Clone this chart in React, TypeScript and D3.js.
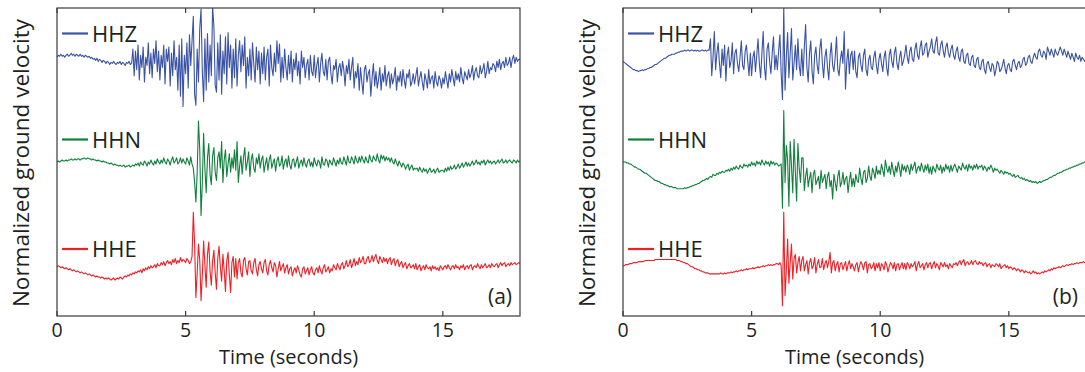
import React from 'react';
import * as d3 from 'd3';

// sampling step of the traces (seconds)
const sampleStep = 0.05;
const xTicks = [0, 5, 10, 15];
const channels = ['HHZ', 'HHN', 'HHE'];
const channelColors = ['#3a53a4', '#117f3e', '#ee1f25'];
const panelLabels = ['(a)', '(b)'];

// ground velocity (1/50 of a normalized unit), one row per second
const hhzA = [
  2, 4, 3, 5, 3, 4, 2, 4, 5, 3, 4, 6, 4, 5, 3, 5, 4, 3, 5, 3,
  4, 2, 4, 3, 2, 3, 1, 2, 0, 1, -1, 1, -2, 0, -1, -3, -1, -2, -4, -2,
  -3, -5, -3, -4, -2, -4, -5, -3, -4, -2, -5, -3, -4, -6, -3, -4, -2, -5, -4, 10,
  -16, 8, -10, 14, -20, 4, -8, 12, -22, 2, -6, 16, -14, 6, -18, 10, -4, 18, -12, 8,
  -20, 4, -8, 14, -24, 10, -2, 12, -26, 6, -16, 18, -10, 2, -30, 14, -36, 20, -46, 4,
  -14, 16, -28, 24, -6, 18, 42, -34, -45, 10, -22, 30, 49, -12, -41, 20, -30, 25, -22, 14,
  -16, 51, 32, -25, -32, 16, -20, 24, -34, 8, -14, 22, -24, 26, -8, 14, -28, 10, -18, 20,
  -26, 4, 18, -12, 14, -6, 22, -28, 2, -16, 10, -20, 16, -4, -22, 12, -10, 8, -24, 6,
  -14, 12, -20, 2, 10, -26, 14, -8, -16, 6, -12, 18, -4, 15, -22, 2, -18, 10, -8, -20,
  4, -14, 8, -22, 0, -10, 6, -16, -2, -24, 8, -8, 2, -18, -6, 0, -20, 4, -12, -16,
  4, -18, -6, 2, -22, -4, 6, -12, -16, 0, -20, -2, 2, -14, -24, -6, -10, 0, -22, -8,
  -4, -16, -2, -10, -26, -6, -14, 0, -20, -8, 2, -28, -12, -18, -4, -30, -8, -22, -34, -10,
  -6, -22, -14, -10, -36, -18, -4, -26, -12, -28, -20, -8, -30, -14, -22, -6, -26, -16, -12, -28,
  -14, -24, -18, -8, -30, -16, -22, -12, -26, -10, -20, -28, -14, -18, -10, -26, -22, -14, -24, -16,
  -8, -26, -18, -12, -22, -30, -14, -20, -28, -10, -24, -18, -16, -28, -12, -22, -26, -16, -20, -28,
  -18, -24, -12, -20, -28, -14, -22, -10, -18, -26, -12, -20, -14, -22, -8, -18, -24, -12, -16, -20,
  -10, -18, -14, -6, -20, -12, -8, -16, -18, -6, -14, -10, -4, -18, -12, -2, -14, -8, -10, -4,
  -6, -12, -2, -8, 0, -10, -4, -2, -8, 2, -6, -4, 2, -8, 0, 4, -4, 2, -2, 0,
  0,
];
const hhnA = [
  0, 1, 0, 1, 2, 1, 1, 2, 1, 2, 2, 3, 2, 2, 3, 2, 3, 3, 2, 3,
  3, 4, 3, 3, 4, 3, 3, 2, 3, 2, 2, 1, 2, 1, 1, 0, 1, 0, 0, -1,
  -1, -2, -1, -2, -3, -2, -3, -3, -4, -3, -4, -4, -3, -5, -4, -4, -3, -5, -4, -3,
  -4, -2, -3, -1, -4, 0, -2, -3, 1, -1, -4, 0, -2, 2, -1, -3, 1, -2, 3, 0,
  -2, 2, -1, 4, 0, -2, 3, 1, -3, 2, 5, -1, 1, 4, -2, 0, 4, -1, 3, 0,
  -2, 4, 1, -3, 5, -2, -6, -20, -39, -10, 40, 12, -52, -20, 28, -6, -30, 4, 18, -12,
  -22, 6, 14, -10, -18, 4, 10, -6, 20, -20, 2, 12, -14, -2, 8, -10, 4, -6, 12, -8,
  20, -20, -4, 6, -12, 4, 14, -8, 0, 10, -14, 2, 8, -6, -10, 4, -2, 8, -6, 2,
  6, -10, -2, 4, -8, 2, 7, -6, -1, 3, -9, 1, 5, -4, -2, 6, -7, 0, 3, -5,
  6, -3, -7, 2, 3, -5, 0, 5, -6, -1, 2, -4, 4, -2, -5, 1, 3, -4, 0, -5,
  4, -1, -4, 2, 0, -6, 5, -2, -3, 3, 1, -5, 2, -1, -3, 4, 0, -4, 2, -2,
  4, -1, -2, 5, 1, -3, 6, 0, -1, 5, 2, -2, 6, 1, -1, 5, 0, 6, 2, -1,
  5, 1, -1, 7, 2, 0, 6, 3, 1, 8, 2, -1, 7, 3, 6, 1, 5, 2, 4, 0,
  4, 0, -2, 3, -1, -4, 1, -2, -5, -1, -3, -7, -4, -2, -8, -5, -3, -8, -6, -7,
  -6, -9, -5, -8, -10, -6, -9, -7, -11, -8, -6, -10, -9, -7, -11, -8, -6, -10, -9, -8,
  -8, -10, -6, -9, -5, -8, -4, -7, -6, -3, -7, -5, -2, -6, -4, -1, -5, -3, 0, -4,
  -1, -4, -2, 1, -3, -1, 2, -2, 0, -3, 1, -1, 2, -3, 0, 2, -1, 1, -2, 0,
  1, -2, 0, 2, -1, 1, 3, -1, 0, 2, -1, 1, 2, 0, -1, 2, 1, -1, 2, 0,
  1,
];
const hheA = [
  -2, -1, -2, -3, -2, -3, -4, -3, -4, -5, -4, -5, -6, -5, -6, -7, -6, -7, -8, -7,
  -8, -9, -8, -9, -10, -9, -10, -11, -10, -11, -12, -11, -12, -12, -13, -12, -13, -14, -13, -14,
  -13, -14, -15, -14, -13, -15, -14, -13, -14, -12, -13, -14, -12, -11, -12, -10, -11, -9, -10, -8,
  -9, -7, -8, -6, -7, -5, -8, -4, -6, -3, -5, -2, -4, -1, -3, -2, 0, -3, 1, -1,
  -1, 2, 0, 3, -1, 2, 4, 1, 3, 0, 5, 2, 6, 1, 4, 2, 7, 3, 5, 4,
  2, 6, 4, 1, 3, 8, 51, 20, -32, -8, 20, 4, -35, -10, 23, 0, -22, 10, 22, -6,
  -20, 4, 14, -8, -24, 6, 18, -2, -16, 10, -6, -26, 4, 12, -10, -27, 2, 8, -12, 6,
  -14, 2, 6, -8, -12, 4, 7, -4, -10, 3, 4, -6, -9, 2, 6, -5, -11, 0, 3, -4,
  -8, 2, 5, -6, -10, 0, 4, -3, -7, 2, -1, -12, -4, 3, -6, -2, 1, -8, -3, 0,
  -9, -4, -2, -11, -6, -3, -8, -1, -5, -10, -12, -4, -2, -9, -6, -3, -10, -5, -2, -8,
  -10, -5, -3, -8, -1, -6, -9, -3, 0, -7, -5, -2, -8, -4, -6, 0, -3, -5, 1, -2,
  -5, 0, 2, -4, -1, 4, -2, 0, 5, -3, 1, 6, -1, 3, 0, 7, 2, 4, 8, 1,
  1, 6, 8, 2, 4, 9, 3, 7, 10, 4, 1, 8, 5, 2, 7, 3, 6, 1, 5, 7,
  0, 4, 6, -1, 3, 5, -2, 1, 3, -3, 0, 2, -4, -1, 1, -3, -2, 0, -4, 1,
  -5, -2, 0, -6, -3, -1, -5, 0, -3, -4, -2, -6, -1, -4, -2, -5, -3, -6, -1, -3,
  -5, -2, -1, -4, 0, -3, -5, -2, -1, -4, 0, -3, -2, -5, -1, -3, 0, -5, -2, -1,
  -4, -1, 0, -5, -2, -1, -3, 1, -2, -4, 0, -3, -1, 1, -3, -2, 0, -3, 1, -1,
  -2, 0, 1, -3, 0, 2, -1, 1, 2, -2, 0, 1, -1, 2, 0, 1, 2, 0, 1, 2,
  1,
];
const hhzB = [
  -2, -3, -4, -5, -6, -7, -8, -9, -10, -10, -11, -11, -12, -11, -11, -10, -11, -10, -10, -9,
  -9, -8, -8, -7, -6, -5, -5, -4, -3, -2, -1, 0, 1, 1, 2, 3, 4, 4, 5, 5,
  5, 6, 6, 7, 7, 8, 8, 8, 9, 8, 9, 9, 8, 9, 9, 8, 9, 8, 9, 8,
  8, 9, 9, 8, 9, 8, 9, 9, 20, -16, 2, 27, -10, 6, 16, -4, -18, 10, -6, 14,
  -21, 4, 12, -8, -2, 16, -14, 6, 10, -4, -12, 2, 18, -6, -10, 8, 14, -2, -16, 6,
  -16, 2, 8, -12, 4, 20, -4, -18, 6, 27, -8, -20, 10, 16, -2, -14, 6, 22, -10, 4,
  -10, 8, 24, -14, -39, 51, -30, 2, 26, -18, 6, 30, -20, -4, 14, -10, 20, -6, -16, 10,
  -16, 12, 34, -8, -22, 6, 18, -12, -24, 4, 12, -6, -14, 10, 20, -4, -18, 2, 10, -8,
  -20, 4, 16, -6, -12, 2, 22, -10, -16, 0, 8, -4, 27, -29, -2, 10, -14, 4, 8, -10,
  8, -12, -18, 2, 6, -6, -12, 4, 10, -10, -16, 0, 4, -8, -10, 2, 8, -6, -14, 0,
  6, -4, -12, 2, 8, -8, -16, 4, 10, -2, -8, 6, 12, -4, -10, 2, 8, -6, -2, 4,
  14, 2, -4, 8, 12, 0, -2, 10, 16, 4, 0, 12, 18, 4, 6, 14, 16, 2, 8, 12,
  20, 8, 6, 16, 22, 6, 4, 14, 18, 8, 2, 12, 16, 6, 2, 10, 14, 4, 0, 8,
  12, 2, -2, 8, 10, -2, -4, 4, 6, -4, -6, 2, 4, -6, -8, 0, 2, -8, -10, -2,
  0, -10, -14, -4, -2, -8, -12, -4, -6, -16, -10, -2, -4, -12, -10, -6, 0, -8, -14, -6,
  -4, -10, -12, -2, 0, -6, -10, -4, -2, -8, -6, 0, 2, -6, -4, 2, 4, -2, -4, 2,
  6, 2, 0, 8, 10, 4, 2, 8, 6, 0, 12, 8, 4, 10, 6, 2, 10, 6, 4, 8,
  12, 8, 4, 10, 6, 2, 8, 4, 0, 6, 2, -2, 6, 2, 0, 4, -2, 2, 0, -2,
  0,
];
const hhnB = [
  0, 0, 0, -1, -1, -2, -2, -3, -4, -5, -5, -6, -7, -7, -8, -9, -10, -11, -11, -12,
  -13, -14, -15, -16, -17, -18, -18, -19, -19, -20, -21, -21, -22, -22, -23, -23, -24, -24, -24, -25,
  -25, -25, -26, -26, -26, -26, -26, -26, -25, -26, -25, -25, -24, -24, -23, -23, -22, -22, -21, -21,
  -20, -19, -18, -18, -17, -16, -17, -15, -14, -15, -12, -13, -13, -11, -12, -10, -11, -9, -10, -10,
  -8, -9, -7, -9, -6, -8, -5, -7, -4, -6, -7, -3, -5, -6, -2, -4, -3, -5, -2, -4,
  0, -3, -1, -4, 1, -2, 0, -3, 2, -1, -3, 1, -2, 0, -4, 1, -2, 0, -3, -1,
  -2, -4, -3, -2, -45, 50, -20, 16, 2, -43, 20, -4, -30, 22, -10, -38, 18, -6, -20, 4,
  4, -28, -14, -6, -24, -16, -10, -30, -12, -8, -22, -18, -14, -26, -8, -20, -16, -12, -26, -14,
  -10, -24, -18, -36, -12, -20, -28, -14, -8, -24, -20, -10, -22, -16, -14, -30, -18, -10, -24, -16,
  -24, -12, -18, -20, -6, -16, -22, -10, -8, -20, -16, -4, -14, -18, -6, -10, -16, -4, -12, -8,
  -12, -2, -8, -14, 2, -6, -10, -4, -12, 0, -8, -14, -4, -10, 0, -6, -14, -2, -8, -4,
  -10, -3, -6, -12, -2, -8, -4, 0, -11, -6, -4, -9, -1, -6, -10, -3, -8, -2, -11, -5,
  -12, -4, -7, -10, -2, -6, -8, -3, -11, -5, -9, -2, -7, -4, -10, -3, -9, -5, -2, -6,
  -10, -4, -6, -8, -1, -5, -7, -3, -9, -2, -6, -4, -8, -3, -6, -2, -7, -4, -5, -3,
  -8, -4, -6, -9, -5, -7, -3, -6, -10, -6, -8, -7, -9, -11, -8, -10, -12, -9, -11, -10,
  -12, -11, -13, -14, -12, -15, -14, -13, -15, -16, -15, -17, -16, -18, -17, -18, -19, -18, -20, -19,
  -20, -19, -21, -20, -19, -20, -19, -18, -18, -17, -17, -16, -15, -15, -14, -13, -13, -12, -11, -11,
  -10, -10, -9, -8, -8, -7, -7, -6, -6, -5, -5, -4, -4, -3, -3, -2, -2, -1, -1, 0,
  0,
];
const hheB = [
  -1, -1, 0, 0, 0, 1, 1, 1, 2, 2, 2, 2, 3, 3, 3, 3, 3, 4, 4, 4,
  4, 4, 4, 4, 4, 5, 5, 5, 5, 5, 5, 5, 5, 5, 5, 5, 5, 5, 5, 5,
  5, 5, 4, 4, 4, 3, 3, 2, 2, 1, 1, 0, -1, -2, -2, -3, -4, -4, -5, -5,
  -6, -6, -7, -7, -8, -8, -8, -9, -9, -9, -9, -9, -9, -9, -9, -9, -8, -9, -9, -8,
  -9, -8, -8, -8, -7, -8, -7, -7, -6, -7, -6, -6, -5, -6, -5, -5, -4, -5, -4, -4,
  -4, -3, -4, -3, -3, -2, -3, -2, -2, -1, -2, -1, -1, 0, -1, 0, -1, 0, 0, 1,
  1, 0, 2, -1, -40, 51, -30, -6, 25, -18, 2, 20, -14, 6, 10, -8, 2, 8, -6, 4,
  8, -6, 0, 4, -9, 2, 6, -4, -1, 7, -8, 0, 5, -3, -2, 6, -5, 1, 4, -3,
  3, 12, -8, 2, 4, -6, 0, 3, -7, 1, 2, -5, -1, 3, -6, 0, 4, -4, 1, -2,
  -6, 0, 2, -7, -1, 3, 0, -5, 2, 3, -8, 0, 1, -4, -2, 2, -6, 1, -3, 2,
  -6, 1, -1, -5, 3, 0, -7, -2, 2, 0, -4, 2, -6, 0, 1, -5, -1, 2, -4, 1,
  -5, 2, 0, -4, 1, -2, 0, 3, -6, 0, 3, -3, -1, 1, -5, 0, 2, -3, 1, 2,
  -4, 0, 3, -3, 1, -1, -5, 2, 0, -2, 2, -2, 0, -4, 1, -1, -3, 1, 0, 2,
  -1, 2, 4, 0, 3, 5, -1, 2, 3, 0, 1, 4, 0, 3, 4, 1, 0, 3, 1, 2,
  -1, 1, 2, -2, 0, 1, -3, 0, -1, -2, 1, 0, -2, 1, -4, -2, -1, 0, -3, -1,
  -4, -2, -3, -5, -3, -4, -6, -4, -5, -7, -5, -6, -8, -6, -7, -8, -7, -9, -8, -6,
  -8, -7, -9, -8, -9, -8, -7, -8, -6, -7, -6, -5, -6, -4, -5, -3, -4, -3, -3, -2,
  -3, -2, -1, -2, -1, 0, -1, 0, 0, 1, 0, 1, 1, 2, 1, 2, 2, 2, 3, 2,
  2,
];

const panelTraces = [
  [hhzA, hhnA, hheA],
  [hhzB, hhnB, hheB],
];

// layout
const W = 1085;
const H = 372;
const panelLeft = [57, 623];
const top = 8;
const plotW = 463;
const plotH = 308;
const traceOffsets = [2, 0, -2];
const ampScale = 50;
const legendY = [33.5, 139.5, 249];
const font = '"Open Sans", "DejaVu Sans", sans-serif';
const textColor = '#231f20';
const axisColor = '#3a3a3a';

const x = d3.scaleLinear().domain([0, 18]).range([0, plotW]);
const y = d3.scaleLinear().domain([-3, 3]).range([plotH, 0]);

function Panel({ index }: { index: number }) {
  const left = panelLeft[index];
  const traces = panelTraces[index];
  const clipId = `clip-${index}`;
  return (
    <g transform={`translate(${left},${top})`}>
      <clipPath id={clipId}>
        <rect x={0} y={0} width={plotW} height={plotH} />
      </clipPath>
      <g clipPath={`url(#${clipId})`}>
        {traces.map((tr, k) => {
          const line = d3
            .line<number>()
            .x((_, i) => x(i * sampleStep))
            .y((d) => y(traceOffsets[k] + d / ampScale));
          return (
            <path
              key={k}
              d={line(tr) || ''}
              fill="none"
              stroke={channelColors[k]}
              strokeWidth={1.1}
              strokeLinejoin="round"
            />
          );
        })}
      </g>
      <rect x={0} y={0} width={plotW} height={plotH} fill="none" stroke={axisColor} strokeWidth={1.2} />
      {xTicks.map((t) => (
        <g key={t}>
          <line x1={x(t)} x2={x(t)} y1={plotH} y2={plotH - 5} stroke={axisColor} strokeWidth={1.2} />
          <line x1={x(t)} x2={x(t)} y1={0} y2={5} stroke={axisColor} strokeWidth={1.2} />
          <text x={x(t)} y={plotH + 21} textAnchor="middle" fontSize={19.5} fontFamily={font} fill={textColor}>
            {t}
          </text>
        </g>
      ))}
      <text x={plotW / 2} y={plotH + 48} textAnchor="middle" fontSize={20} fontFamily={font} fill={textColor}>
        Time (seconds)
      </text>
      <text
        transform={`translate(${-28},${plotH / 2 + 1}) rotate(-90)`}
        textAnchor="middle"
        fontSize={22.5}
        fontFamily={font}
        fill={textColor}
      >
        Normalized ground velocity
      </text>
      {channels.map((c, k) => (
        <g key={c} transform={`translate(0,${legendY[k] - top})`}>
          <line x1={5} x2={31} y1={0} y2={0} stroke={channelColors[k]} strokeWidth={2.2} />
          <text x={35} y={8} fontSize={22} fontFamily={font} fill={textColor}>
            {c}
          </text>
        </g>
      ))}
      <text x={plotW - 8} y={plotH - 12} textAnchor="end" fontSize={21} fontFamily={font} fill={textColor}>
        {panelLabels[index]}
      </text>
    </g>
  );
}

export default function App() {
  return (
    <>
      <style>{`body{margin:0;overflow:hidden}`}</style>
      <svg width={W} height={H} style={{ display: 'block', background: '#fff' }}>
        <Panel index={0} />
        <Panel index={1} />
      </svg>
    </>
  );
}
